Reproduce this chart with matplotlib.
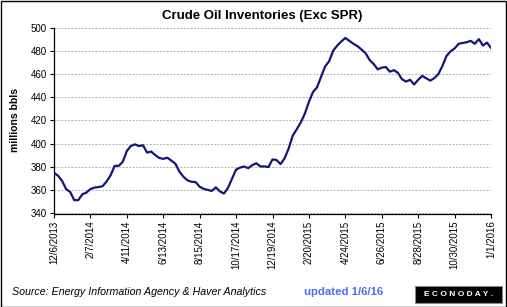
import numpy as np
import matplotlib
matplotlib.use("Agg")
import matplotlib.pyplot as plt
from matplotlib.patches import Rectangle

plt.rcParams['font.family'] = ['Liberation Sans', 'DejaVu Sans']

# weekly crude oil stocks excl. SPR, millions of barrels, 12/6/2013 .. 1/1/2016
inventories = [
    375, 372.5, 368, 361, 358.5, 351.5, 351.5, 356.5, 358, 361,
    362.3, 362.7, 363.5, 367.5, 373, 381, 381, 384.5, 393.8, 398,
    399.5, 398, 398.7, 392.4, 393.3, 390.3, 387.8, 387, 388, 385.5,
    382.8, 376, 371.5, 368.5, 367.3, 367, 363, 361.2, 360.3, 359.4,
    362.5, 359, 357.2, 362, 370, 377.8, 379.5, 380.4, 379, 381.6,
    383.2, 380.5, 380.5, 380, 386.5, 386, 382.5, 387.5, 396, 407,
    412.5, 418.5, 426, 436, 444.5, 448.5, 457.5, 466.5, 471, 480,
    484.5, 488, 491, 488.5, 486, 484, 481, 478, 472, 468.6,
    464, 465.5, 466, 462, 463.3, 461, 455.5, 453.5, 455, 451,
    455, 458.4, 456.3, 454.3, 456.5, 460, 467, 475.5, 479.5, 482,
    486, 486.7, 487.3, 488.5, 486, 490, 484.5, 487, 482.5,
]
tick_labels = ['12/6/2013', '2/7/2014', '4/11/2014', '6/13/2014', '8/15/2014',
               '10/17/2014', '12/19/2014', '2/20/2015', '4/24/2015', '6/26/2015',
               '8/28/2015', '10/30/2015', '1/1/2016']
weeks = np.arange(len(inventories))

W, H = 507, 307
fig = plt.figure(figsize=(W / 100, H / 100), dpi=100)
ax = fig.add_axes([54 / W, 1 - 213.5 / H, (491 - 54) / W, (213.5 - 27.5) / H])

ax.plot(weeks, inventories, color='#14147a', lw=1.6, solid_joinstyle='round')

ax.set_xlim(0, len(inventories) - 1)
ax.set_ylim(340, 500)
ax.set_yticks(np.arange(340, 501, 20))
ax.set_xticks(np.arange(0, len(inventories), 9))
ax.set_xticklabels(tick_labels, rotation=90)
ax.tick_params(axis='both', labelsize=7, length=3, width=0.8, direction='out', pad=2)
ax.grid(axis='y', color='#b0b0b0', ls=(0, (2, 1.5)), lw=0.7)
ax.set_axisbelow(True)
for s in ['top', 'right']:
    ax.spines[s].set_visible(False)
for s in ['left', 'bottom']:
    ax.spines[s].set_linewidth(0.9)

ax.set_ylabel('millions bbls', fontsize=7.5, fontweight='bold', labelpad=8)
fig.text(262 / W, 1 - 16 / H, 'Crude Oil Inventories (Exc SPR)', ha='center', va='center',
         fontsize=9.5, fontweight='bold')
fig.text(12 / W, 1 - 292 / H, 'Source: Energy Information Agency & Haver Analytics',
         ha='left', va='center', fontsize=7.7, style='italic')
fig.text(344 / W, 1 - 292 / H, 'updated 1/6/16', ha='center', va='center',
         fontsize=8.2, fontweight='bold', color='#4d6cf0')

# logo box
fig.patches.append(Rectangle((415 / W, 1 - 303 / H), 87 / W, 17.5 / H, transform=fig.transFigure,
                             facecolor='black', edgecolor='#888888', lw=0.8))
fig.text(458.5 / W, 1 - 294 / H, 'E C O N O D A Y .', ha='center', va='center',
         fontsize=6, fontweight='bold', color='white')

# outer border
fig.patches.append(Rectangle((0.5 / W, 0.5 / H), (W - 1.5) / W, (H - 1.5) / H,
                             transform=fig.transFigure, fill=False, edgecolor='black', lw=1))

fig.savefig('out.png', dpi=100)
